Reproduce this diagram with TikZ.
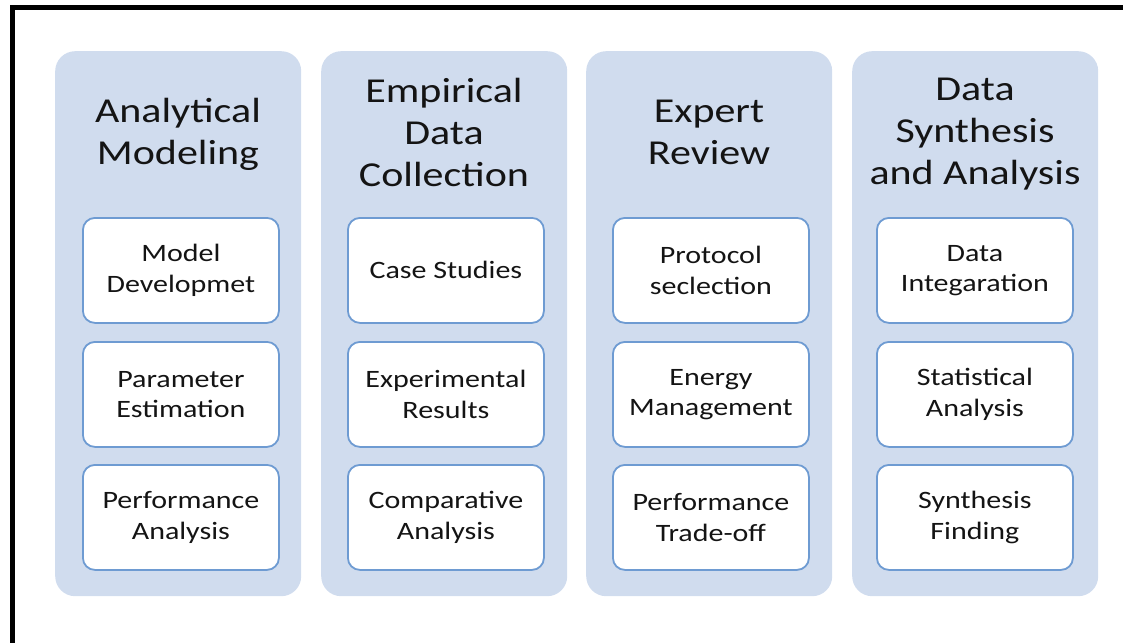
\documentclass[tikz,border=0pt]{standalone}
\usepackage{fontspec}
\setmainfont{Carlito}
\newfontfamily\widefont[FakeStretch=1.2]{Carlito}
\definecolor{panelblue}{HTML}{D0DCEE}
\definecolor{itemblue}{HTML}{6E9BD2}
\definecolor{inkgray}{HTML}{141414}
\begin{document}
\begin{tikzpicture}[x=1pt,y=-1pt,
  panel/.style={fill=panelblue, draw=none, rounded corners=20pt, anchor=north west,
    inner sep=0pt, minimum width=246pt, minimum height=545pt},
  ptitle/.style={text=inkgray, align=center, inner sep=0pt,
    font=\widefont\fontsize{35}{42}\selectfont},
  item/.style={draw=itemblue, line width=1.8pt, fill=white, rounded corners=12pt,
    anchor=north west, inner sep=0pt, minimum width=196pt, minimum height=105pt,
    align=center, text=inkgray, font=\widefont\fontsize{25}{30.5}\selectfont}]
\useasboundingbox (0,0) rectangle (1123,642);
\clip (0,0) rectangle (1123,642);

% outer frame (open at right and bottom)
\coordinate (frameBL) at (12.5,660);
\coordinate (frameTL) at (12.5,7.5);
\coordinate (frameTR) at (1140,7.5);
\draw[line width=5pt] (frameBL) -- (frameTL) -- (frameTR);

% column 1
\node[panel] (p1) at (55,51) {};
\node[ptitle] (t1) at (178,134) {Analytical\\Modeling};
\node[item] (a1) at (82,217) {Model\\Developmet};
\node[item] (a2) at (82,341) {Parameter\\Estimation};
\node[item] (a3) at (82,464) {Performance\\Analysis};

% column 2
\node[panel] (p2) at (321,51) {};
\node[ptitle] (t2) at (444,132) {Empirical\\Data\\Collection};
\node[item] (b1) at (347,217) {Case Studies};
\node[item] (b2) at (347,341) {Experimental\\Results};
\node[item] (b3) at (347,464) {Comparative\\Analysis};

% column 3
\node[panel] (p3) at (586,51) {};
\node[ptitle] (t3) at (709,132) {Expert\\Review};
\node[item] (c1) at (612,217) {Protocol\\seclection};
\node[item] (c2) at (612,341) {Energy\\Management};
\node[item] (c3) at (612,464) {Performance\\Trade-off};

% column 4
\node[panel] (p4) at (852,51) {};
\node[ptitle] (t4) at (975,134) {Data\\Synthesis\\and Analysis};
\node[item] (d1) at (876,217) {Data\\Integaration};
\node[item] (d2) at (876,341) {Statistical\\Analysis};
\node[item] (d3) at (876,464) {Synthesis\\Finding};
\end{tikzpicture}
\end{document}
